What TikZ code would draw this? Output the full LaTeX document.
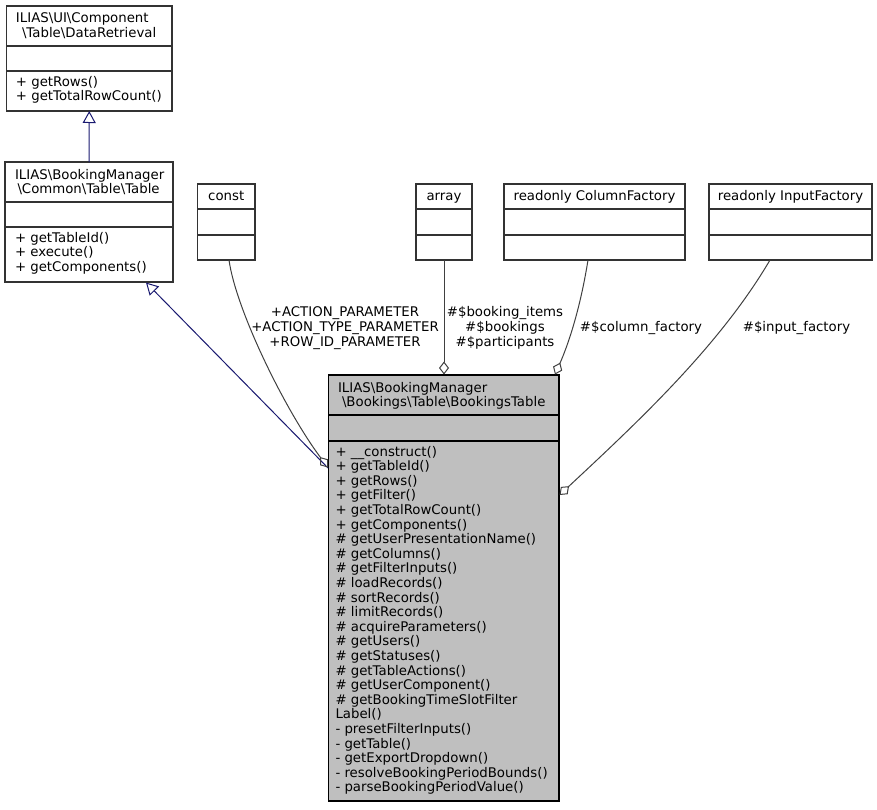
\documentclass[tikz,border=0pt]{standalone}
\usepackage{fontspec}
\setmainfont{DejaVu Sans}
\usetikzlibrary{arrows.meta}
\definecolor{edgegray}{HTML}{404040}
\definecolor{boxgray}{HTML}{333333}
\definecolor{inhblue}{HTML}{191970}
\definecolor{mainfill}{HTML}{BFBFBF}
\begin{document}
\begin{tikzpicture}[x=1pt,y=-1pt,
  every node/.style={font=\fontsize{13.3}{14.6}\selectfont, inner sep=0pt, outer sep=0pt},
  cls/.style={draw=boxgray, line width=1.3pt, fill=white, anchor=north west},
  mcls/.style={cls, draw=black, fill=mainfill},
  divl/.style={draw=boxgray, line width=1.3pt},
  mdivl/.style={draw=black, line width=1.3pt},
  txt/.style={anchor=base west, align=left},
  ttl/.style={anchor=base},
  lbl/.style={anchor=base, align=center},
  inh/.style={draw=inhblue, line width=1pt, -{Triangle[open, length=12pt, width=13pt, line width=1pt]}},
  assoc/.style={draw=edgegray, line width=1pt, -{Diamond[open, length=13pt, width=10pt, line width=1pt]}},
]
\useasboundingbox (0,0) rectangle (877,809);

% DataRetrieval
\node[cls, minimum width=165.5pt, minimum height=105pt] (A) at (6.5,6) {};
\draw[divl] (A.west |- 0,46) -- (A.east |- 0,46);
\draw[divl] (A.west |- 0,71) -- (A.east |- 0,71);
\node[txt] (At) at (16,37.4) {ILIAS\textbackslash UI\textbackslash Component\\\hspace{6pt}\textbackslash Table\textbackslash DataRetrieval};
\node[txt] (Am) at (16,100.6) {+ getRows()\\+ getTotalRowCount()};

% Common Table
\node[cls, minimum width=168pt, minimum height=120pt] (B) at (5,162) {};
\draw[divl] (B.west |- 0,202) -- (B.east |- 0,202);
\draw[divl] (B.west |- 0,227) -- (B.east |- 0,227);
\node[txt] (Bt) at (15,193.6) {ILIAS\textbackslash BookingManager\\\hspace{2.5pt}\textbackslash Common\textbackslash Table\textbackslash Table};
\node[txt] (Bm) at (15,271.2) {+ getTableId()\\+ execute()\\+ getComponents()};

% const
\node[cls, minimum width=57.5pt, minimum height=76pt] (C) at (197.5,184) {};
\draw[divl] (C.west |- 0,209) -- (C.east |- 0,209);
\draw[divl] (C.west |- 0,235) -- (C.east |- 0,235);
\node[ttl] (Ct) at (226.25,200.5) {const};

% array
\node[cls, minimum width=56pt, minimum height=76pt] (D) at (416,184) {};
\draw[divl] (D.west |- 0,209) -- (D.east |- 0,209);
\draw[divl] (D.west |- 0,235) -- (D.east |- 0,235);
\node[ttl] (Dt) at (444,200.5) {array};

% ColumnFactory
\node[cls, minimum width=181pt, minimum height=76pt] (E) at (504,184) {};
\draw[divl] (E.west |- 0,209) -- (E.east |- 0,209);
\draw[divl] (E.west |- 0,235) -- (E.east |- 0,235);
\node[ttl] (Et) at (594.5,200.5) {readonly ColumnFactory};

% InputFactory
\node[cls, minimum width=163pt, minimum height=76pt] (F) at (709,184) {};
\draw[divl] (F.west |- 0,209) -- (F.east |- 0,209);
\draw[divl] (F.west |- 0,235) -- (F.east |- 0,235);
\node[ttl] (Ft) at (790.5,200.5) {readonly InputFactory};

% Main BookingsTable
\node[mcls, minimum width=230.5pt, minimum height=426pt] (M) at (328.5,375) {};
\draw[mdivl] (M.west |- 0,415) -- (M.east |- 0,415);
\draw[mdivl] (M.west |- 0,441) -- (M.east |- 0,441);
\node[txt] (Mt) at (338,406.8) {ILIAS\textbackslash BookingManager\\\hspace{4pt}\textbackslash Bookings\textbackslash Table\textbackslash BookingsTable};
\node[txt] (Mm) at (335.5,791.8) {+ \_\_construct()\\+ getTableId()\\+ getRows()\\+ getFilter()\\+ getTotalRowCount()\\+ getComponents()\\\# getUserPresentationName()\\\# getColumns()\\\# getFilterInputs()\\\# loadRecords()\\\# sortRecords()\\\# limitRecords()\\\# acquireParameters()\\\# getUsers()\\\# getStatuses()\\\# getTableActions()\\\# getUserComponent()\\\# getBookingTimeSlotFilter\\Label()\\- presetFilterInputs()\\- getTable()\\- getExportDropdown()\\- resolveBookingPeriodBounds()\\- parseBookingPeriodValue()};

% endpoints on borders
\coordinate (bI) at (146,282.5);
\coordinate (mI) at (328,468);
\coordinate (mC) at (328,467.5);
\coordinate (mD) at (444,374.5);
\coordinate (mE) at (555,374.5);
\coordinate (mF) at (559.5,495);
\coordinate (cS) at (229,260);
\coordinate (eS) at (588,260);
\coordinate (fS) at (770,260);

% connectors
\draw[inh] (B.north) -- (A.south);
\draw[inh] (mI) -- (bI);
\draw[assoc] (cS) .. controls (236,310) and (285,410) .. (mC);
\draw[assoc] (D.south) -- (mD);
\draw[assoc] (eS) .. controls (580,310) and (568,345) .. (mE);
\draw[assoc] (fS) .. controls (720,345) and (640,420) .. (mF);

% edge labels
\node[lbl] (l1) at (345,346) {+ACTION\_PARAMETER\\+ACTION\_TYPE\_PARAMETER\\+ROW\_ID\_PARAMETER};
\node[lbl] (l2) at (505,346) {\#\$booking\_items\\\#\$bookings\\\#\$participants};
\node[lbl] (l3) at (641,331.4) {\#\$column\_factory};
\node[lbl] (l4) at (796.5,331.4) {\#\$input\_factory};
\end{tikzpicture}
\end{document}
